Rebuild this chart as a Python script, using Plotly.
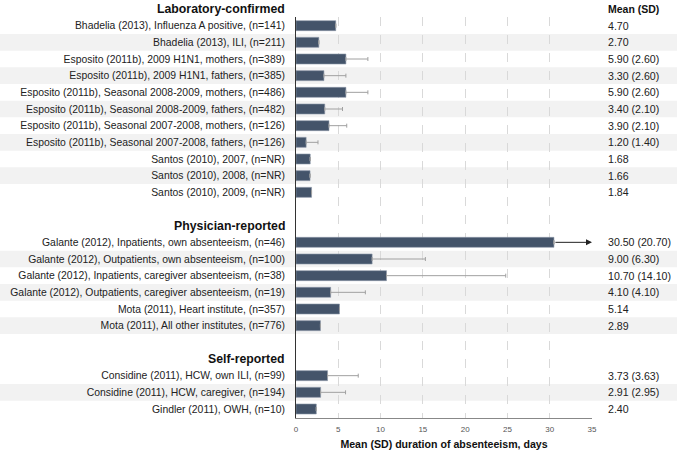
import plotly.graph_objects as go

groups = ["Laboratory-confirmed", "Physician-reported", "Self-reported"]
labels = [
    ["Bhadelia (2013), Influenza A positive, (n=141)",
     "Bhadelia (2013), ILI, (n=211)",
     "Esposito (2011b), 2009 H1N1, mothers, (n=389)",
     "Esposito (2011b), 2009 H1N1, fathers, (n=385)",
     "Esposito (2011b), Seasonal 2008-2009, mothers, (n=486)",
     "Esposito (2011b), Seasonal 2008-2009, fathers, (n=482)",
     "Esposito (2011b), Seasonal 2007-2008, mothers, (n=126)",
     "Esposito (2011b), Seasonal 2007-2008, fathers, (n=126)",
     "Santos (2010), 2007, (n=NR)",
     "Santos (2010), 2008, (n=NR)",
     "Santos (2010), 2009, (n=NR)"],
    ["Galante (2012), Inpatients, own absenteeism, (n=46)",
     "Galante (2012), Outpatients, own absenteeism, (n=100)",
     "Galante (2012), Inpatients, caregiver absenteeism, (n=38)",
     "Galante (2012), Outpatients, caregiver absenteeism, (n=19)",
     "Mota (2011), Heart institute, (n=357)",
     "Mota (2011), All other institutes, (n=776)"],
    ["Considine (2011), HCW, own ILI, (n=99)",
     "Considine (2011), HCW, caregiver, (n=194)",
     "Gindler (2011), OWH, (n=10)"],
]
means = [
    [4.70, 2.70, 5.90, 3.30, 5.90, 3.40, 3.90, 1.20, 1.68, 1.66, 1.84],
    [30.50, 9.00, 10.70, 4.10, 5.14, 2.89],
    [3.73, 2.91, 2.40],
]
sds = [
    [None, None, 2.60, 2.60, 2.60, 2.10, 2.10, 1.40, None, None, None],
    [20.70, 6.30, 14.10, 4.10, None, None],
    [3.63, 2.95, None],
]
mean_text = [
    ["4.70", "2.70", "5.90 (2.60)", "3.30 (2.60)", "5.90 (2.60)", "3.40 (2.10)",
     "3.90 (2.10)", "1.20 (1.40)", "1.68", "1.66", "1.84"],
    ["30.50 (20.70)", "9.00 (6.30)", "10.70 (14.10)", "4.10 (4.10)", "5.14", "2.89"],
    ["3.73 (3.63)", "2.91 (2.95)", "2.40"],
]
x_ticks = [0, 5, 10, 15, 20, 25, 30, 35]
x_max = 35

# build slot positions
ys, xs, errs, labs, texts, shaded = [], [], [], [], [], []
header_pos = []
slot = 0
for g, name in enumerate(groups):
    header_pos.append(slot)
    slot += 1
    for k, lab in enumerate(labels[g]):
        ys.append(slot)
        xs.append(means[g][k])
        labs.append(lab)
        texts.append(mean_text[g][k])
        sd = sds[g][k]
        errs.append(sd if sd is not None else 0)
        shaded.append(k % 2 == 1)
        slot += 1
    slot += 1
last_slot = ys[-1]

# clipped error bars -> arrows
arrows = []
err_plot = []
for x, e, y in zip(xs, errs, ys):
    if x + e > x_max:
        arrows.append((x, y))
        err_plot.append(0)
    else:
        err_plot.append(e)

y_top = 0.48
y_bot = last_slot + 0.54

fig = go.Figure()
fig.add_trace(go.Bar(
    x=xs, y=ys, orientation="h", width=0.6,
    marker=dict(color="#44546A", line=dict(color="#8C97A8", width=0.6)),
    error_x=dict(type="data", array=err_plot, arrayminus=[0] * len(xs),
                 symmetric=False, color="#A0A0A0", thickness=1, width=2),
    hoverinfo="skip",
))

shapes = []
for y, s in zip(ys, shaded):
    if s:
        shapes.append(dict(type="rect", xref="paper", yref="y",
                           x0=-1.1, x1=1.4, y0=y - 0.5, y1=y + 0.5,
                           fillcolor="#F2F2F2", line=dict(width=0), layer="below"))


def to_paper(v):
    return (y_bot - v) / (y_bot - y_top)


annotations = []
for name, hp in zip(groups, header_pos):
    annotations.append(dict(xref="paper", yref="paper", x=0, y=to_paper(hp), xanchor="right",
                            xshift=-9, yanchor="middle", showarrow=False,
                            text="<b>%s</b>" % name,
                            font=dict(size=12.3, color="#111", family="Liberation Sans")))
annotations.append(dict(xref="paper", yref="paper", x=1.047, y=to_paper(header_pos[0]),
                        xanchor="left", yanchor="middle", showarrow=False,
                        text="<b>Mean (SD)</b>",
                        font=dict(size=10.5, color="#111", family="Liberation Sans")))
for y, t in zip(ys, texts):
    annotations.append(dict(xref="paper", yref="y", x=1.047, y=y, xanchor="left",
                            yanchor="middle", showarrow=False, text=t,
                            font=dict(size=10.6, color="#222", family="Liberation Sans")))
for x, y in arrows:
    annotations.append(dict(xref="x", yref="y", axref="x", ayref="y",
                            x=x_max, y=y, ax=x, ay=y, text="", showarrow=True,
                            arrowhead=2, arrowsize=1.2, arrowwidth=1, arrowcolor="#222",
                            standoff=0, startstandoff=0))

fig.update_layout(
    width=677, height=450,
    margin=dict(l=296, r=85, t=17, b=32, autoexpand=False),
    paper_bgcolor="white", plot_bgcolor="rgba(0,0,0,0)",
    showlegend=False, bargap=0.4,
    shapes=shapes, annotations=annotations,
    font=dict(family="Liberation Sans"),
)
fig.update_xaxes(
    range=[0, x_max], tickvals=x_ticks, showgrid=True, gridcolor="#D9D9D9",
    griddash="dash", gridwidth=1, zeroline=False,
    showline=True, linecolor="#888", linewidth=1, automargin=False,
    tickfont=dict(size=8, color="#555"), ticklabelstandoff=3,
    title=dict(text="<b>Mean (SD) duration of absenteeism, days</b>",
               font=dict(size=10.6, color="#111"), standoff=11),
    fixedrange=True,
)
fig.update_yaxes(
    range=[y_bot, y_top], tickvals=ys, ticktext=labs,
    showgrid=False, zeroline=False, showline=True, linecolor="#333", linewidth=1,
    tickfont=dict(size=10.4, color="#222"), ticks="", ticklabelstandoff=8,
    automargin=False, fixedrange=True,
)
fig.write_html(
    "out.html",
    config={"displayModeBar": False},
    post_script="document.body.style.margin='0';document.body.style.overflow='hidden';",
)
